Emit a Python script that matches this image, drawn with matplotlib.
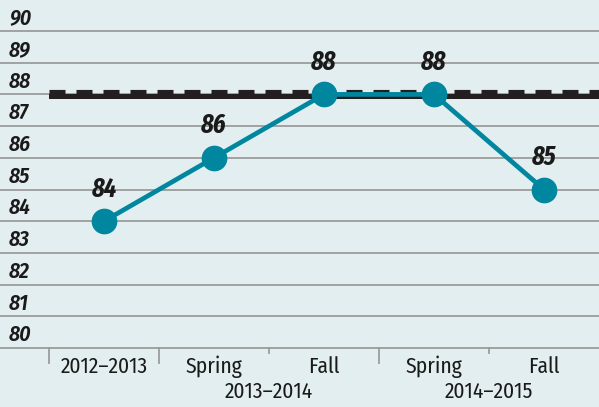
import matplotlib
matplotlib.use("Agg")
import matplotlib.pyplot as plt

categories = ["2012\u20132013", "Spring", "Fall", "Spring", "Fall"]
group_labels = ["2013\u20132014", "2014\u20132015"]
values = [84, 86, 88, 88, 85]
target = 88
yticks = [80, 81, 82, 83, 84, 85, 86, 87, 88, 89, 90]

fam = ["Fira Sans Condensed", "DejaVu Sans"]
fam_lab = ["Fira Sans Extra Condensed", "Fira Sans Condensed", "DejaVu Sans"]

bg = "#e3eef0"
teal = "#00879f"
ink = "#1a1a1a"

fig = plt.figure(figsize=(5.99, 4.07), dpi=100, facecolor=bg)
ax = fig.add_axes([0, 0, 1, 1])
ax.set_facecolor(bg)

x0 = -104 / 110
x1 = (599 - 104) / 110
ax.set_xlim(x0, x1)
ppu = (348 - 31) / 10
ymax = 90 + 31 / ppu
ymin = 80 - (407 - 348) / ppu
ax.set_ylim(ymin, ymax)

for s in ax.spines.values():
    s.set_visible(False)
ax.set_xticks([])
ax.set_yticks([])

for y in yticks:
    ax.axhline(y, color="#9b9b9b", lw=1.3, zorder=1)
    ax.text(x0 + 9 / 110, y + 0.07, str(y), fontsize=15.5, family=fam,
            style="italic", fontweight="semibold", va="bottom", ha="left", color=ink)

# target line: solid base below + dashes above
xs = [-0.5, x1]
ax.fill_between(xs, target - 5 / ppu, target, color="#231f20", lw=0, zorder=2)
ax.plot(xs, [target + 2.5 / ppu] * 2, color="#231f20", lw=3.7, solid_capstyle="butt",
        dashes=(16 / 3.7 * 0.72, 11 / 3.7 * 0.72), zorder=2)

xi = list(range(len(values)))
ax.plot(xi, values, color=teal, lw=3.4, marker="o", markersize=17.5, zorder=3)
for x, v in zip(xi, values):
    ax.text(x, v + 19 / ppu, str(v), fontsize=19, family=fam_lab, style="italic",
            fontweight="bold", ha="center", va="bottom", color=ink, zorder=4)

long_ticks = [-0.5, 0.5, 2.5]
short_ticks = [1.5, 3.5]
for t in long_ticks:
    ax.plot([t, t], [80, 80 - 15 / ppu], color="#9b9b9b", lw=1.3, clip_on=False)
for t in short_ticks:
    ax.plot([t, t], [80, 80 - 5 / ppu], color="#9b9b9b", lw=1.3, clip_on=False)

for x, c in zip(xi, categories):
    ax.text(x, 80 - 19 / ppu, c, fontsize=15.5, family=fam, ha="center", va="center",
            color=ink)
for x, g in zip([1.5, 3.5], group_labels):
    ax.text(x, 80 - 44 / ppu, g, fontsize=15.5, family=fam, ha="center", va="center",
            color=ink)

fig.savefig("out.png", dpi=100, facecolor=bg)
